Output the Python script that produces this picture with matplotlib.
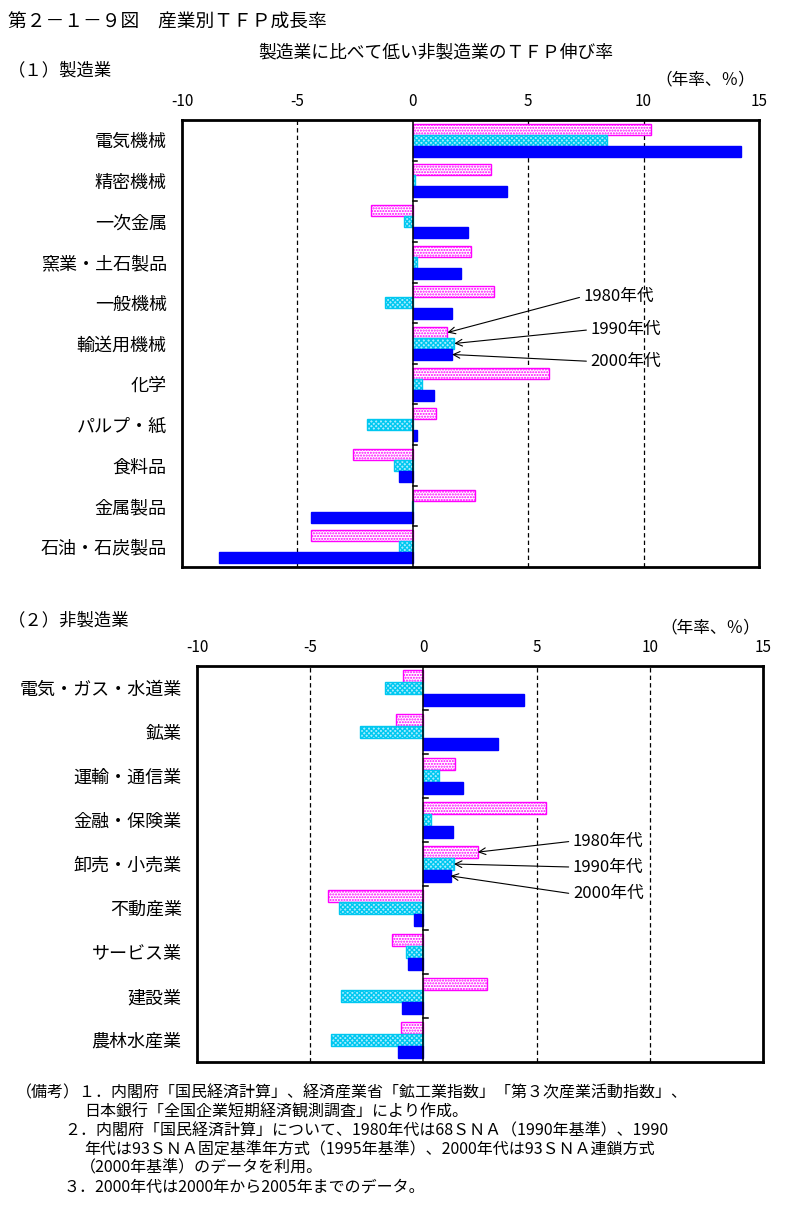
"""Industry TFP growth chart (manufacturing vs non-manufacturing), two panels."""
from __future__ import annotations

import matplotlib

matplotlib.use("Agg")
import matplotlib.pyplot as plt
import numpy as np

plt.rcParams["font.family"] = ["Noto Sans CJK JP", "DejaVu Sans"]
plt.rcParams["hatch.linewidth"] = 1.0

FIG_W, FIG_H = 796, 1224

# ---- data -------------------------------------------------------------------
decades = ["1980年代", "1990年代", "2000年代"]

mfg_categories = ["電気機械", "精密機械", "一次金属", "窯業・土石製品", "一般機械", "輸送用機械",
                  "化学", "パルプ・紙", "食料品", "金属製品", "石油・石炭製品"]
mfg_1980s = [10.3, 3.4, -1.8, 2.5, 3.5, 1.5, 5.9, 1.0, -2.6, 2.7, -4.4]
mfg_1990s = [8.4, 0.1, -0.4, 0.2, -1.2, 1.8, 0.4, -2.0, -0.8, -0.05, -0.6]
mfg_2000s = [14.2, 4.1, 2.4, 2.1, 1.7, 1.7, 0.9, 0.2, -0.6, -4.4, -8.4]

nonmfg_categories = ["電気・ガス・水道業", "鉱業", "運輸・通信業", "金融・保険業", "卸売・小売業",
                     "不動産業", "サービス業", "建設業", "農林水産業"]
nonmfg_1980s = [-0.9, -1.2, 1.4, 5.4, 2.4, -4.2, -1.4, 2.8, -1.0]
nonmfg_1990s = [-1.7, -2.8, 0.7, 0.35, 1.35, -3.75, -0.75, -3.65, -4.1]
nonmfg_2000s = [4.45, 3.3, 1.75, 1.3, 1.2, -0.4, -0.7, -0.95, -1.1]

x_ticks = [-10, -5, 0, 5, 10, 15]

notes = [
    ("（備考）１．内閣府「国民経済計算」、経済産業省「鉱工業指数」「第３次産業活動指数」、", 16, 1093),
    ("日本銀行「全国企業短期経済観測調査」により作成。", 84, 1112),
    ("２．内閣府「国民経済計算」について、1980年代は68ＳＮＡ（1990年基準）、1990", 64, 1131),
    ("年代は93ＳＮＡ固定基準年方式（1995年基準）、2000年代は93ＳＮＡ連鎖方式", 84, 1150),
    ("（2000年基準）のデータを利用。", 80, 1168),
    ("３．2000年代は2000年から2005年までのデータ。", 64, 1187),
]

STYLES = [
    dict(facecolor="white", edgecolor="#FF00FF", hatch="......"),
    dict(facecolor="#A6ECFF", edgecolor="#00C8F0", hatch="xxxxxxx"),
    dict(facecolor="#0000FF", edgecolor="#0000FF", hatch=None),
]
BAR_H = 0.27


def fx(px: float) -> float:
    return px / FIG_W


def fy(py: float) -> float:
    return 1 - py / FIG_H


def add_panel(fig, box, categories, series, callout_idx, text_pos):
    left, top, right, bottom = box
    ax = fig.add_axes([fx(left), fy(bottom), fx(right) - fx(left), fy(top) - fy(bottom)])
    n = len(categories)
    y = np.arange(n)

    for k, (vals, st) in enumerate(zip(series, STYLES)):
        ax.barh(y + (k - 1) * BAR_H, vals, height=BAR_H, linewidth=1.0, zorder=3, **st)

    ax.set_xlim(-10, 15)
    ax.set_ylim(n - 0.5, -0.5)
    ax.set_xticks(x_ticks)
    ax.set_xticklabels([str(t) for t in x_ticks], fontsize=11)
    ax.xaxis.tick_top()
    ax.tick_params(axis="x", length=0, pad=7)
    ax.set_yticks(y)
    ax.set_yticklabels(categories, fontsize=13)
    ax.tick_params(axis="y", length=0, pad=11)

    for gx in (-5, 5, 10):
        ax.axvline(gx, color="black", lw=0.9, ls=(0, (3.5, 2.5)), zorder=1)
    ax.axvline(0, color="black", lw=1.1, zorder=4)
    for b in np.arange(n - 1) + 0.5:
        ax.plot([0, 0.2], [b, b], color="black", lw=1.1, zorder=4)

    for s in ax.spines.values():
        s.set_linewidth(2)

    for k, (label, (tx, ty)) in enumerate(zip(decades, text_pos)):
        ax.annotate(label, xy=(series[k][callout_idx], callout_idx + (k - 1) * BAR_H),
                    xytext=(tx, ty), fontsize=12, va="center", ha="left",
                    arrowprops=dict(arrowstyle="->", color="black", lw=0.8,
                                    shrinkA=1, shrinkB=0, relpos=(0, 0.5)))
    return ax


def main() -> None:
    fig = plt.figure(figsize=(FIG_W / 100, FIG_H / 100), dpi=100)

    fig.text(fx(8), fy(22), "第２－１－９図　産業別ＴＦＰ成長率", fontsize=13.5, va="center")
    fig.text(fx(436), fy(52), "製造業に比べて低い非製造業のＴＦＰ伸び率", fontsize=12.8,
             va="center", ha="center")
    fig.text(fx(8), fy(70), "（１）製造業", fontsize=12.5, va="center")
    fig.text(fx(705), fy(80), "（年率、％）", fontsize=12, va="center", ha="center")
    fig.text(fx(8), fy(620), "（２）非製造業", fontsize=12.5, va="center")
    fig.text(fx(710), fy(628), "（年率、％）", fontsize=12, va="center", ha="center")

    add_panel(fig, (182, 120, 759, 567), mfg_categories,
              [mfg_1980s, mfg_1990s, mfg_2000s], 5,
              [(7.4, 3.84), (7.7, 4.66), (7.7, 5.44)])
    add_panel(fig, (197, 666, 763, 1062), nonmfg_categories,
              [nonmfg_1980s, nonmfg_1990s, nonmfg_2000s], 4,
              [(6.6, 3.48), (6.6, 4.07), (6.6, 4.68)])

    for text, x, y in notes:
        fig.text(fx(x), fy(y), text, fontsize=11.5, va="center")

    fig.savefig("out.png", dpi=100)
    plt.close(fig)


if __name__ == "__main__":
    main()
